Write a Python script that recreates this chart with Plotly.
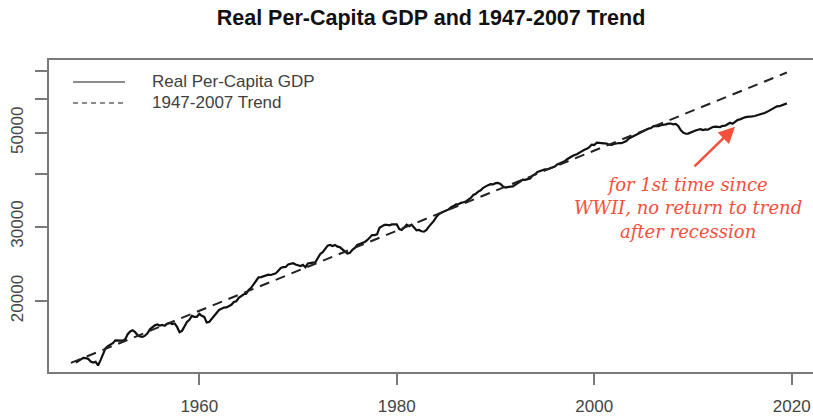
import plotly.graph_objects as go

# Quarterly real per-capita GDP, 1947Q3 .. 2019Q3
start_year = 1947.5
gdp_values = [
    14300, 14420,                      # 1947 Q3-Q4
    14550, 14680, 14650, 14600,        # 1948
    14380, 14300, 14360, 14080,        # 1949
    14500, 14920, 15450, 15650,        # 1950
    15750, 15900, 16150, 16120,        # 1951
    16150, 16120, 16250, 16700,        # 1952
    16950, 17050, 16900, 16600,        # 1953
    16500, 16450, 16560, 16780,        # 1954
    17150, 17380, 17520, 17600,        # 1955
    17500, 17560, 17480, 17680,        # 1956
    17760, 17650, 17700, 17370,        # 1957
    16880, 17000, 17450, 17850,        # 1958
    18050, 18450, 18350, 18350,        # 1959
    18650, 18450, 18350, 17800,        # 1960
    17850, 18150, 18400, 18750,        # 1961
    19050, 19180, 19300, 19320,        # 1962
    19450, 19600, 19900, 19980,        # 1963
    20350, 20550, 20750, 20800,        # 1964
    21250, 21500, 21900, 22350,        # 1965
    22750, 22780, 22880, 23000,        # 1966
    23100, 23050, 23180, 23250,        # 1967
    23600, 23950, 24050, 24080,        # 1968
    24400, 24450, 24580, 24400,        # 1969
    24250, 24200, 24350, 24050,        # 1970
    24550, 24550, 24650, 24700,        # 1971
    25300, 25850, 26100, 26500,        # 1972
    27050, 27150, 27000, 27150,        # 1973
    26900, 26800, 26500, 26300,        # 1974
    25900, 26000, 26450, 26700,        # 1975
    27150, 27300, 27400, 27600,        # 1976
    27850, 28250, 28650, 28650,        # 1977
    28750, 29800, 30000, 30300,        # 1978
    30300, 30200, 30350, 30350,        # 1979
    30350, 29600, 29450, 29850,        # 1980
    30300, 30050, 30300, 29850,        # 1981
    29400, 29450, 29250, 29200,        # 1982
    29450, 30000, 30450, 30950,        # 1983
    31600, 32100, 32350, 32500,        # 1984
    32750, 32950, 33350, 33550,        # 1985
    33850, 33880, 34150, 34250,        # 1986
    34400, 34750, 35050, 35650,        # 1987
    35850, 36300, 36550, 37050,        # 1988
    37400, 37600, 37800, 37750,        # 1989
    38000, 38050, 37850, 37350,        # 1990
    37100, 37250, 37300, 37350,        # 1991
    37750, 38000, 38350, 38750,        # 1992
    38700, 38850, 39000, 39600,        # 1993
    39900, 40400, 40600, 40950,        # 1994
    41000, 41000, 41250, 41450,        # 1995
    41600, 42100, 42350, 42700,        # 1996
    42800, 43300, 43750, 44000,        # 1997
    44300, 44500, 44900, 45300,        # 1998
    45600, 45850, 46250, 46900,        # 1999
    46800, 47400, 47300, 47350,        # 2000
    47100, 47150, 46850, 46800,        # 2001
    47050, 47200, 47300, 47250,        # 2002
    47450, 47800, 48500, 48900,        # 2003
    49150, 49450, 49800, 50150,        # 2004
    50650, 50850, 51150, 51300,        # 2005
    51850, 51900, 51850, 52100,        # 2006
    52150, 52350, 52550, 52600,        # 2007
    52350, 52500, 51900, 50750,        # 2008
    50050, 49750, 49800, 50150,        # 2009
    50300, 50650, 50850, 51000,        # 2010
    50750, 50950, 50850, 51300,        # 2011
    51600, 51700, 51650, 51600,        # 2012
    51950, 52000, 52400, 52800,        # 2013
    52500, 53000, 53600, 53800,        # 2014
    54150, 54400, 54550, 54550,        # 2015
    54700, 54800, 55000, 55200,        # 2016
    55450, 55700, 56050, 56500,        # 2017
    56950, 57450, 57750, 57800,        # 2018
    58150, 58400, 58700,               # 2019 Q1-Q3
]
gdp_years = [start_year + 0.25 * i for i in range(len(gdp_values))]

# 1947-2007 log-linear trend (end points)
trend_years = [1947.0, 2019.5]
trend_values = [14280, 69450]

y_tick_values = [20000, 30000, 40000, 50000, 60000, 70000]
y_tick_labels = ["20000", "30000", "", "50000", "", ""]
x_tick_values = [1960, 1980, 2000, 2020]
x_tick_labels = ["1960", "1980", "2000", "2020"]

series_names = ["Real Per-Capita GDP", "1947-2007 Trend"]
title_text = "Real Per-Capita GDP and 1947-2007 Trend"
note_text = "<i>for 1st time since<br>WWII, no return to trend<br>after recession</i>"

SANS = "Liberation Sans, Arial, Helvetica, sans-serif"
AXIS_GREY = "#7a7a7a"
RED = "#f5503c"

fig = go.Figure()
fig.add_trace(go.Scatter(
    x=gdp_years, y=gdp_values, mode="lines", name=series_names[0],
    line=dict(color="#111111", width=2.2), showlegend=False,
))
fig.add_trace(go.Scatter(
    x=trend_years, y=trend_values, mode="lines", name=series_names[1],
    line=dict(color="#222222", width=2, dash="10px,7px"), showlegend=False,
))

# legend drawn R-style (no box, long key lines)
legend_rows_y = [0.9295, 0.8622]
legend_dashes = ["solid", "5px,4px"]
for name, ly, dash in zip(series_names, legend_rows_y, legend_dashes):
    fig.add_shape(type="line", xref="paper", yref="paper",
                  x0=0.0314, x1=0.0995, y0=ly, y1=ly,
                  line=dict(color="#666666", width=1.4, dash=dash))
    fig.add_annotation(x=0.1322, y=ly, xref="paper", yref="paper", text=name,
                       showarrow=False, xanchor="left", yanchor="middle",
                       font=dict(family=SANS, size=17, color="#404040"))

# annotation text
fig.add_annotation(
    x=2009.5, y=4.5209, xref="x", yref="y", text=note_text, showarrow=False,
    font=dict(family="DejaVu Serif, serif", size=18, color=RED),
    align="center", xanchor="center", yanchor="middle",
)
# arrow
fig.add_annotation(
    x=2014.25, y=4.7131, xref="x", yref="y", text="", showarrow=True,
    ax=-42, ay=41, axref="pixel", ayref="pixel",
    arrowhead=2, arrowsize=1.3, arrowwidth=2.5, arrowcolor=RED,
    standoff=0,
)

fig.update_layout(
    width=813, height=416,
    margin=dict(l=49, r=0, t=60, b=44),
    paper_bgcolor="white", plot_bgcolor="white",
    font=dict(family=SANS, size=17, color="#444444"),
    title=dict(
        text="<b>" + title_text + "</b>",
        font=dict(family=SANS, size=21.5, color="#111111"),
        x=0.5, xref="paper", xanchor="center",
        y=1 - 17 / 416, yref="container", yanchor="middle",
    ),
    showlegend=False,
    xaxis=dict(
        range=[1944.78, 2022.15], showgrid=False, zeroline=False,
        showline=True, linecolor=AXIS_GREY, linewidth=1.5, mirror=True,
        ticks="outside", ticklen=11, tickwidth=1.5, tickcolor=AXIS_GREY,
        tickvals=x_tick_values, ticktext=x_tick_labels,
        tickfont=dict(family=SANS, size=17, color="#444444"),
        ticklabelstandoff=7,
    ),
    yaxis=dict(
        type="log", range=[4.1332, 4.8712], showgrid=False, zeroline=False,
        showline=True, linecolor=AXIS_GREY, linewidth=1.5, mirror=False,
        ticks="outside", ticklen=12, tickwidth=1.5, tickcolor=AXIS_GREY,
        tickvals=y_tick_values, ticktext=y_tick_labels, tickangle=-90,
        tickfont=dict(family=SANS, size=17, color="#444444"),
        ticklabelstandoff=5,
    ),
)

fig.write_html(
    "out.html",
    config={"displayModeBar": False},
    post_script="document.body.style.margin='0';document.body.style.padding='0';",
)
